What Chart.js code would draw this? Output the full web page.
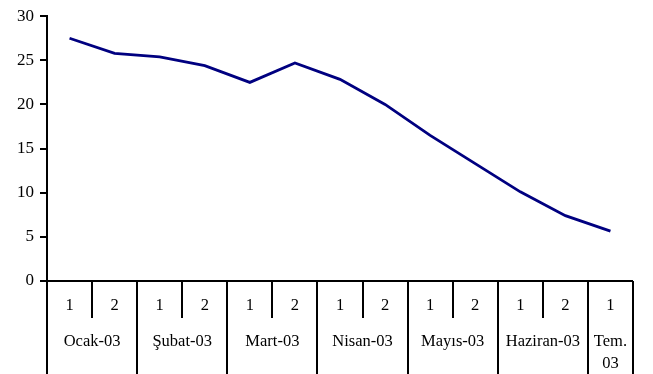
<!DOCTYPE html>
<html>
<head>
<meta charset="utf-8">
<script src="https://cdn.jsdelivr.net/npm/chart.js@4.4.1/dist/chart.umd.min.js"></script>
<style>
  html, body { margin: 0; padding: 0; background: #fff; }
  #wrap { width: 653px; height: 374px; position: relative; }
</style>
</head>
<body>
<div id="wrap"><canvas id="c" width="653" height="374"></canvas></div>
<script>
// Half-month periods (1st / 2nd half of each month), Jan–Jul 2003
const halves = ['1', '2', '1', '2', '1', '2', '1', '2', '1', '2', '1', '2', '1'];
const months = ['Ocak-03', 'Şubat-03', 'Mart-03', 'Nisan-03', 'Mayıs-03', 'Haziran-03', ['Tem.', '03']];
const monthSpans = [2, 2, 2, 2, 2, 2, 1];
const values = [27.5, 25.8, 25.4, 24.4, 22.5, 24.7, 22.85, 20.0, 16.5, 13.3, 10.1, 7.4, 5.65];
const yTicks = [0, 5, 10, 15, 20, 25, 30];

const FONT = '"Liberation Serif", "Times New Roman", serif';

// Two-level category axis: half labels on the first row, month names below
const groupedAxis = {
  id: 'groupedAxis',
  afterDraw(chart) {
    const ctx = chart.ctx;
    const xs = chart.scales.x;
    const area = chart.chartArea;
    const n = halves.length;
    const w = (area.right - area.left) / n;
    const y0 = area.bottom;
    const H = chart.height;
    ctx.save();
    ctx.strokeStyle = '#000';
    ctx.lineWidth = 2;
    ctx.beginPath();
    ctx.moveTo(area.left - 7, y0);
    ctx.lineTo(area.right, y0);
    ctx.stroke();

    // boundaries
    const monthEdges = new Set([0]);
    let acc = 0;
    monthSpans.forEach(s => { acc += s; monthEdges.add(acc); });
    for (let i = 0; i <= n; i++) {
      const x = Math.round(xs.getPixelForValue(0) - w / 2 + i * w);
      ctx.beginPath();
      ctx.moveTo(x, y0);
      ctx.lineTo(x, monthEdges.has(i) ? H : y0 + 37);
      ctx.stroke();
    }

    ctx.fillStyle = '#000';
    ctx.textAlign = 'center';
    ctx.textBaseline = 'middle';
    ctx.font = '16.5px ' + FONT;
    halves.forEach((h, i) => {
      ctx.fillText(h, xs.getPixelForValue(i), y0 + 25);
    });
    let start = 0;
    months.forEach((m, k) => {
      const span = monthSpans[k];
      const cx = xs.getPixelForValue(start) - w / 2 + span * w / 2;
      const lines = Array.isArray(m) ? m : [m];
      lines.forEach((ln, j) => ctx.fillText(ln, cx, y0 + 61 + j * 22));
      start += span;
    });
    ctx.restore();
  }
};

new Chart(document.getElementById('c'), {
  type: 'line',
  data: {
    labels: halves.map((h, i) => i),
    datasets: [{
      data: values,
      borderColor: '#000080',
      borderWidth: 2.8,
      pointRadius: 0,
      tension: 0,
      fill: false
    }]
  },
  options: {
    responsive: false,
    animation: false,
    events: [],
    layout: { padding: { top: 14, right: 20, bottom: 93, left: 0 } },
    plugins: { legend: { display: false }, tooltip: { enabled: false } },
    scales: {
      x: { type: 'category', display: false, offset: true },
      y: {
        min: 0, max: 30,
        afterFit(s) { s.width = 47; },
        afterBuildTicks(s) { s.ticks = yTicks.map(v => ({ value: v })); },
        border: { display: true, color: '#000', width: 2 },
        grid: { display: true, drawOnChartArea: false, drawTicks: true, tickLength: 7, color: '#000', lineWidth: 2 },
        ticks: { color: '#000', padding: 6, font: { family: FONT, size: 17 } }
      }
    }
  },
  plugins: [groupedAxis]
});
</script>
</body>
</html>
